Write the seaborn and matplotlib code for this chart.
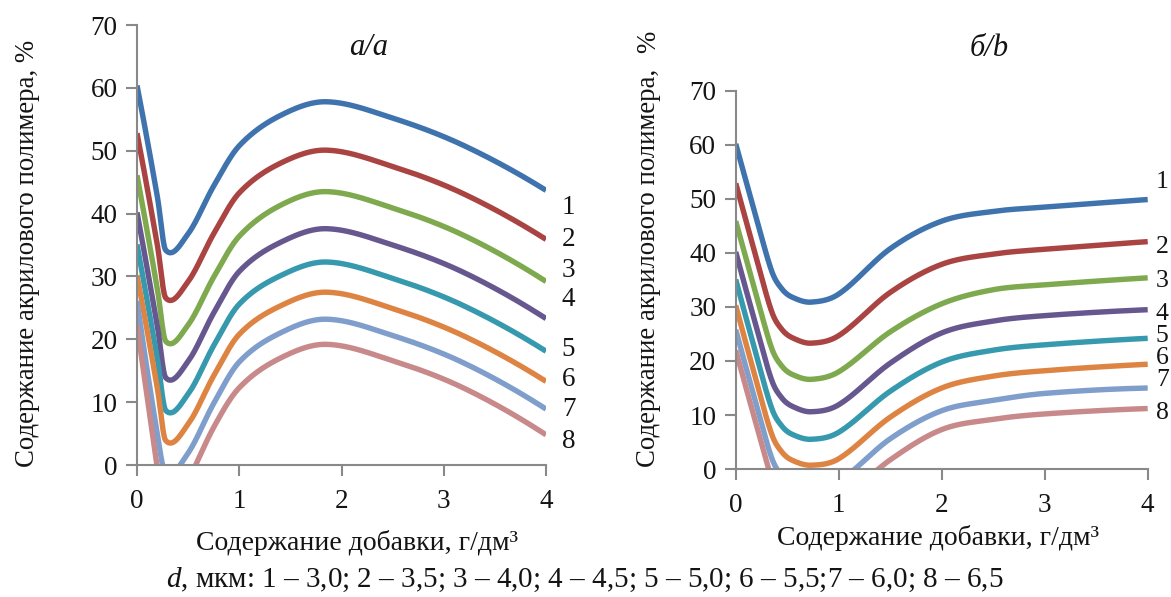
import numpy as np
import matplotlib
matplotlib.use("Agg")
import matplotlib.pyplot as plt
import seaborn as sns

sns.set_theme(style="ticks")
plt.rcParams.update({
    "font.family": ["Liberation Serif", "DejaVu Serif"],
    "mathtext.fontset": "custom",
    "mathtext.rm": "Liberation Serif",
    "mathtext.it": "Liberation Serif:italic",
    "axes.edgecolor": "#898989",
    "axes.linewidth": 1.5,
})

# panel a: content vs additive
x_a = [0, 0.2, 0.28, 0.5, 0.75, 1, 1.4, 1.85, 2.5, 3.2, 4]
a1 = [60.4, 42.6, 34.2, 36.8, 44.4, 50.8, 55.6, 57.8, 55.2, 50.8, 43.7]
a2 = [52.8, 34.9, 26.6, 29.2, 36.8, 43.3, 48.0, 50.1, 47.5, 43.1, 35.9]
a3 = [46.1, 27.9, 19.7, 22.3, 29.9, 36.4, 41.3, 43.5, 40.9, 36.5, 29.2]
a4 = [40.2, 22.0, 13.9, 16.5, 24.2, 30.8, 35.4, 37.6, 35.0, 30.6, 23.3]
a5 = [35.1, 16.8, 8.7, 11.3, 19.0, 25.6, 30.1, 32.3, 29.7, 25.3, 18.1]
a6 = [30.2, 12.1, 3.9, 6.5, 14.2, 20.8, 25.3, 27.5, 24.9, 20.5, 13.3]
a7 = [26.1, 4.8, -1.4, 1.9, 9.8, 16.4, 21.0, 23.2, 20.6, 16.2, 8.9]
a8 = [22.2, -0.5, -9.0, -2.5, 6.0, 12.3, 17.0, 19.2, 16.6, 12.2, 4.8]

# panel b
x_b = [0, 0.2, 0.35, 0.45, 0.55, 0.73, 1, 1.5, 2, 2.5, 3, 4]
b1 = [60.2, 46.5, 36.6, 33.3, 31.8, 30.9, 32.4, 40.8, 45.9, 47.7, 48.5, 49.9]
b2 = [52.9, 39.1, 29.1, 25.8, 24.3, 23.3, 24.7, 32.7, 37.9, 39.8, 40.7, 42.1]
b3 = [45.9, 32.2, 22.3, 19.0, 17.5, 16.6, 18.0, 25.4, 30.6, 33.2, 34.1, 35.4]
b4 = [40.2, 26.3, 16.4, 13.1, 11.6, 10.6, 11.9, 19.6, 25.2, 27.4, 28.4, 29.5]
b5 = [35.1, 21.1, 11.2, 7.9, 6.4, 5.5, 6.8, 14.4, 19.8, 22.0, 23.0, 24.2]
b6 = [30.3, 16.3, 6.4, 3.1, 1.6, 0.7, 1.9, 9.6, 15.0, 17.2, 18.2, 19.4]
b7 = [25.8, 11.9, 2.0, -1.3, -2.8, -3.7, -2.3, 5.6, 10.8, 12.7, 14.0, 15.0]
b8 = [22.0, 8.2, -1.7, -5.0, -6.5, -7.4, -6.0, 1.7, 7.3, 9.2, 10.2, 11.2]

series_labels = ["1", "2", "3", "4", "5", "6", "7", "8"]
label_y_a = [40.9, 35.9, 31.0, 26.4, 18.4, 13.6, 8.8, 3.8]
label_y_b = [53.1, 41.1, 34.8, 28.7, 24.6, 20.6, 16.5, 10.4]
colors = ["#3F73AD", "#A94442", "#7FA94E", "#67578F",
          "#3699AD", "#DE8443", "#7F9ECB", "#C8898A"]


def smooth(x, y, n=600):
    # cardinal (Catmull-Rom) cubic through the read points, like a smoothed Excel line
    x = np.asarray(x, float)
    y = np.asarray(y, float)
    h = np.diff(x)
    d = np.diff(y) / h
    m = np.zeros_like(y)
    m[1:-1] = (y[2:] - y[:-2]) / (x[2:] - x[:-2])
    m[0] = 2 * d[0] - m[1]
    m[-1] = 2 * d[-1] - m[-2]
    xs = np.linspace(x[0], x[-1], n)
    i = np.clip(np.searchsorted(x, xs, side="right") - 1, 0, len(h) - 1)
    t = (xs - x[i]) / h[i]
    ys = ((2 * t**3 - 3 * t**2 + 1) * y[i] + (t**3 - 2 * t**2 + t) * h[i] * m[i]
          + (-2 * t**3 + 3 * t**2) * y[i + 1] + (t**3 - t**2) * h[i] * m[i + 1])
    return xs, ys


fig = plt.figure(figsize=(11.71, 5.97), dpi=100)
ax_a = fig.add_axes([0.117, 0.2211, 0.3493, 0.7369])
ax_b = fig.add_axes([0.6283, 0.2144, 0.3518, 0.6332])

txt = "#141414"
panels = [
    (ax_a, x_a, [a1, a2, a3, a4, a5, a6, a7, a8], label_y_a, 4.22, "center", 19.5),
    (ax_b, x_b, [b1, b2, b3, b4, b5, b6, b7, b8], label_y_b, 4.08, "left", 18.5),
]
for ax, xv, ys, ly, lx, ha, fs in panels:
    for y, c in zip(ys, colors):
        xs, yy = smooth(xv, y)
        sns.lineplot(x=xs, y=yy, ax=ax, color=c, linewidth=3.9, sort=False,
                     solid_capstyle="butt")
    for lab, yl in zip(series_labels, ly):
        ax.text(lx, yl, lab, ha=ha, va="center", fontsize=fs, color=txt,
                clip_on=False)
    ax.set_xlim(0, 4)
    ax.set_ylim(0, 70)
    ax.set_xticks([0, 1, 2, 3, 4])
    ax.set_yticks(range(0, 71, 10))
    ax.tick_params(direction="out", length=8, width=1.5, color="#898989",
                   labelsize=19.5, labelcolor=txt, pad=6)
    ax.tick_params(axis="x", pad=9)
    ax.set_xlabel("")
    ax.set_ylabel("")
    sns.despine(ax=ax)

ax_a.text(2.26, 66.4, "a/a", ha="center", va="center", fontsize=22,
          fontstyle="italic", color=txt)
fig.text(0.845, 0.918, "б/b", ha="center", va="center", fontsize=22,
         fontstyle="italic", color=txt)

fig.text(0.0231, 0.2178, "Содержание акрилового полимера, %", rotation=90,
         ha="center", va="bottom", fontsize=19.3, color=txt)
fig.text(0.5542, 0.2178, "Содержание акрилового полимера,", rotation=90,
         ha="center", va="bottom", fontsize=19.3, color=txt)
fig.text(0.5542, 0.9296, "%", rotation=90,
         ha="center", va="center", fontsize=19.3, color=txt)
fig.text(0.3049, 0.0905, "Содержание добавки, г/дм³", ha="center",
         va="center", fontsize=20, color=txt)
fig.text(0.801, 0.0988, "Содержание добавки, г/дм³", ha="center",
         va="center", fontsize=20, color=txt)
fig.text(0.4996, 0.0285,
         "$d$, мкм: 1 – 3,0; 2 – 3,5; 3 – 4,0; 4 – 4,5; 5 – 5,0; 6 – 5,5;7 – 6,0; 8 – 6,5",
         ha="center", va="center", fontsize=21, color=txt)

fig.savefig("out.png", dpi=100)
